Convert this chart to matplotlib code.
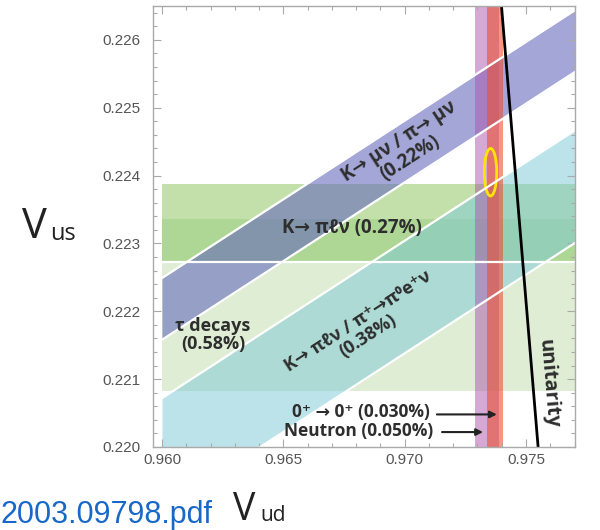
import matplotlib.pyplot as plt
from matplotlib.patches import Ellipse
from matplotlib.ticker import MultipleLocator

VUD_RANGE = [0.960, 0.9775]

# diagonal bands: Vus at both ends of VUD_RANGE
KMUNU_LO = [0.22158, 0.22564]
KMUNU_HI = [0.22249, 0.22655]
KL3R_LO = [0.21906, 0.22312]
KL3R_HI = [0.22072, 0.22478]

# horizontal bands (Vus)
TAU_BAND = [0.22082, 0.22387]
KL3_BAND = [0.22272, 0.22387]
KL3_CORE = [0.22272, 0.22336]

# vertical bands (Vud)
NEUTRON_BAND = [0.97290, 0.97387]
SUPERALLOWED_BAND = [0.97338, 0.97406]

# global fit ellipse
FIT_CENTER = [0.97354, 0.22405]
FIT_SIZE = [0.00051, 0.00070]

# unitarity line
UNIT_VUS = [0.2200, 0.2265]
UNIT_VUD = [0.97550, 0.97399]

ANN = dict(family=['Open Sans', 'DejaVu Sans'], fontweight='bold',
           color='#2e2e2e')


def rgb(r, g, b):
    return (r / 255, g / 255, b / 255)


fig = plt.figure(figsize=(6, 5.3), dpi=100)
ax = fig.add_axes([153 / 600, 1 - 447 / 530, 422 / 600, 441 / 530])

# horizontal bands
ax.fill_between(VUD_RANGE, TAU_BAND[0], TAU_BAND[1], color=rgb(161, 206, 132),
                alpha=0.35, lw=0)
ax.fill_between(VUD_RANGE, KL3_BAND[0], KL3_BAND[1], color=rgb(155, 206, 107),
                alpha=0.4, lw=0)
ax.fill_between(VUD_RANGE, KL3_CORE[0], KL3_CORE[1], color=rgb(128, 192, 103),
                alpha=0.3, lw=0)

# diagonal bands
ax.fill_between(VUD_RANGE, KMUNU_LO, KMUNU_HI, color=rgb(102, 107, 187),
                alpha=0.6, lw=0)
ax.fill_between(VUD_RANGE, KL3R_LO, KL3R_HI, color=rgb(125, 201, 215),
                alpha=0.5, lw=0)
for edge in (KMUNU_LO, KMUNU_HI, KL3R_LO, KL3R_HI):
    ax.plot(VUD_RANGE, edge, color='white', lw=1.6)
ax.plot(VUD_RANGE, [KL3_BAND[0], KL3_BAND[0]], color='white', lw=1.6)

# vertical bands
ax.axvspan(NEUTRON_BAND[0], NEUTRON_BAND[1], color=rgb(170, 85, 175),
           alpha=0.5, lw=0)
ax.axvspan(SUPERALLOWED_BAND[0], SUPERALLOWED_BAND[1], color=rgb(235, 80, 50),
           alpha=0.6, lw=0)

ax.add_patch(Ellipse(FIT_CENTER, FIT_SIZE[0], FIT_SIZE[1], fill=False,
                     edgecolor=rgb(255, 228, 0), lw=2))

ax.plot(UNIT_VUD, UNIT_VUS, color='black', lw=2)

# labels
ax.text(0.97001, 0.22438, 'K\u2192 \u03bc\u03bd / \u03c0\u2192 \u03bc\u03bd\n(0.22%)',
        rotation=33, ha='center', va='center', rotation_mode='anchor',
        linespacing=1.0, fontsize=13.5, **ANN)
ax.text(0.96783, 0.22323, 'K\u2192 \u03c0\u2113\u03bd (0.27%)',
        ha='center', va='center', fontsize=13.5, **ANN)
ax.text(0.96210, 0.22165, '\u03c4 decays\n(0.58%)', ha='center', va='center',
        linespacing=1.05, fontsize=13, **ANN)
ax.text(0.96828, 0.22175,
        'K\u2192 \u03c0\u2113\u03bd / \u03c0\u207a\u2192\u03c0\u2070e\u207a\u03bd\n(0.38%)',
        rotation=33, ha='center', va='center', rotation_mode='anchor',
        linespacing=1.0, fontsize=13, **ANN)
ax.text(0.97104, 0.22052, '0\u207a \u2192 0\u207a (0.030%)', ha='right',
        va='center', fontsize=12.5, **ANN)
ax.text(0.97117, 0.22024, 'Neutron (0.050%)', ha='right', va='center',
        fontsize=12.5, **ANN)
ax.text(0.97593, 0.22094, 'unitarity', rotation=-85.2, ha='center',
        va='center', rotation_mode='anchor', fontsize=14.5, **ANN)

arrow = dict(arrowstyle='-|>', color='#222222', lw=1.5, mutation_scale=10,
             shrinkA=0, shrinkB=0)
ax.annotate('', xy=(0.97380, 0.22048), xytext=(0.97133, 0.22048),
            arrowprops=arrow)
ax.annotate('', xy=(0.97323, 0.22022), xytext=(0.97154, 0.22022),
            arrowprops=arrow)

ax.set_xlim(0.95963, 0.97702)
ax.set_ylim(0.2200, 0.2265)
ax.xaxis.set_major_locator(MultipleLocator(0.005))
ax.xaxis.set_minor_locator(MultipleLocator(0.001))
ax.yaxis.set_major_locator(MultipleLocator(0.001))
ax.yaxis.set_minor_locator(MultipleLocator(0.0002))
ax.xaxis.set_major_formatter(plt.FormatStrFormatter('%.3f'))
ax.yaxis.set_major_formatter(plt.FormatStrFormatter('%.3f'))
ax.tick_params(which='both', direction='in', top=True, right=True,
               color='#aaaaaa', width=0.8)
ax.tick_params(which='major', length=6)
ax.tick_params(which='minor', length=3)
ax.tick_params(axis='y', pad=9, labelsize=11, labelcolor='#555555')
ax.tick_params(axis='x', pad=4, labelsize=11, labelcolor='#555555')
for lab in ax.get_xticklabels() + ax.get_yticklabels():
    lab.set_family('Liberation Sans')
for sp in ax.spines.values():
    sp.set_color('#aaaaaa')
    sp.set_linewidth(1)

fig.text(22 / 600, 1 - 238 / 530, 'V', fontsize=30, family='Open Sans',
         color='#222222')
fig.text(50 / 600, 1 - 240 / 530, 'us', fontsize=17, family='Open Sans',
         color='#222222')
fig.text(233 / 600, 1 - 520 / 530, 'V', fontsize=27, family='Open Sans',
         color='#222222')
fig.text(260 / 600, 1 - 521 / 530, 'ud', fontsize=15, family='Open Sans',
         color='#222222')
fig.text(0.0, 7 / 530, '2003.09798.pdf', fontsize=22, family='Liberation Sans',
         color=rgb(24, 104, 200))

fig.savefig('out.png', dpi=100)
